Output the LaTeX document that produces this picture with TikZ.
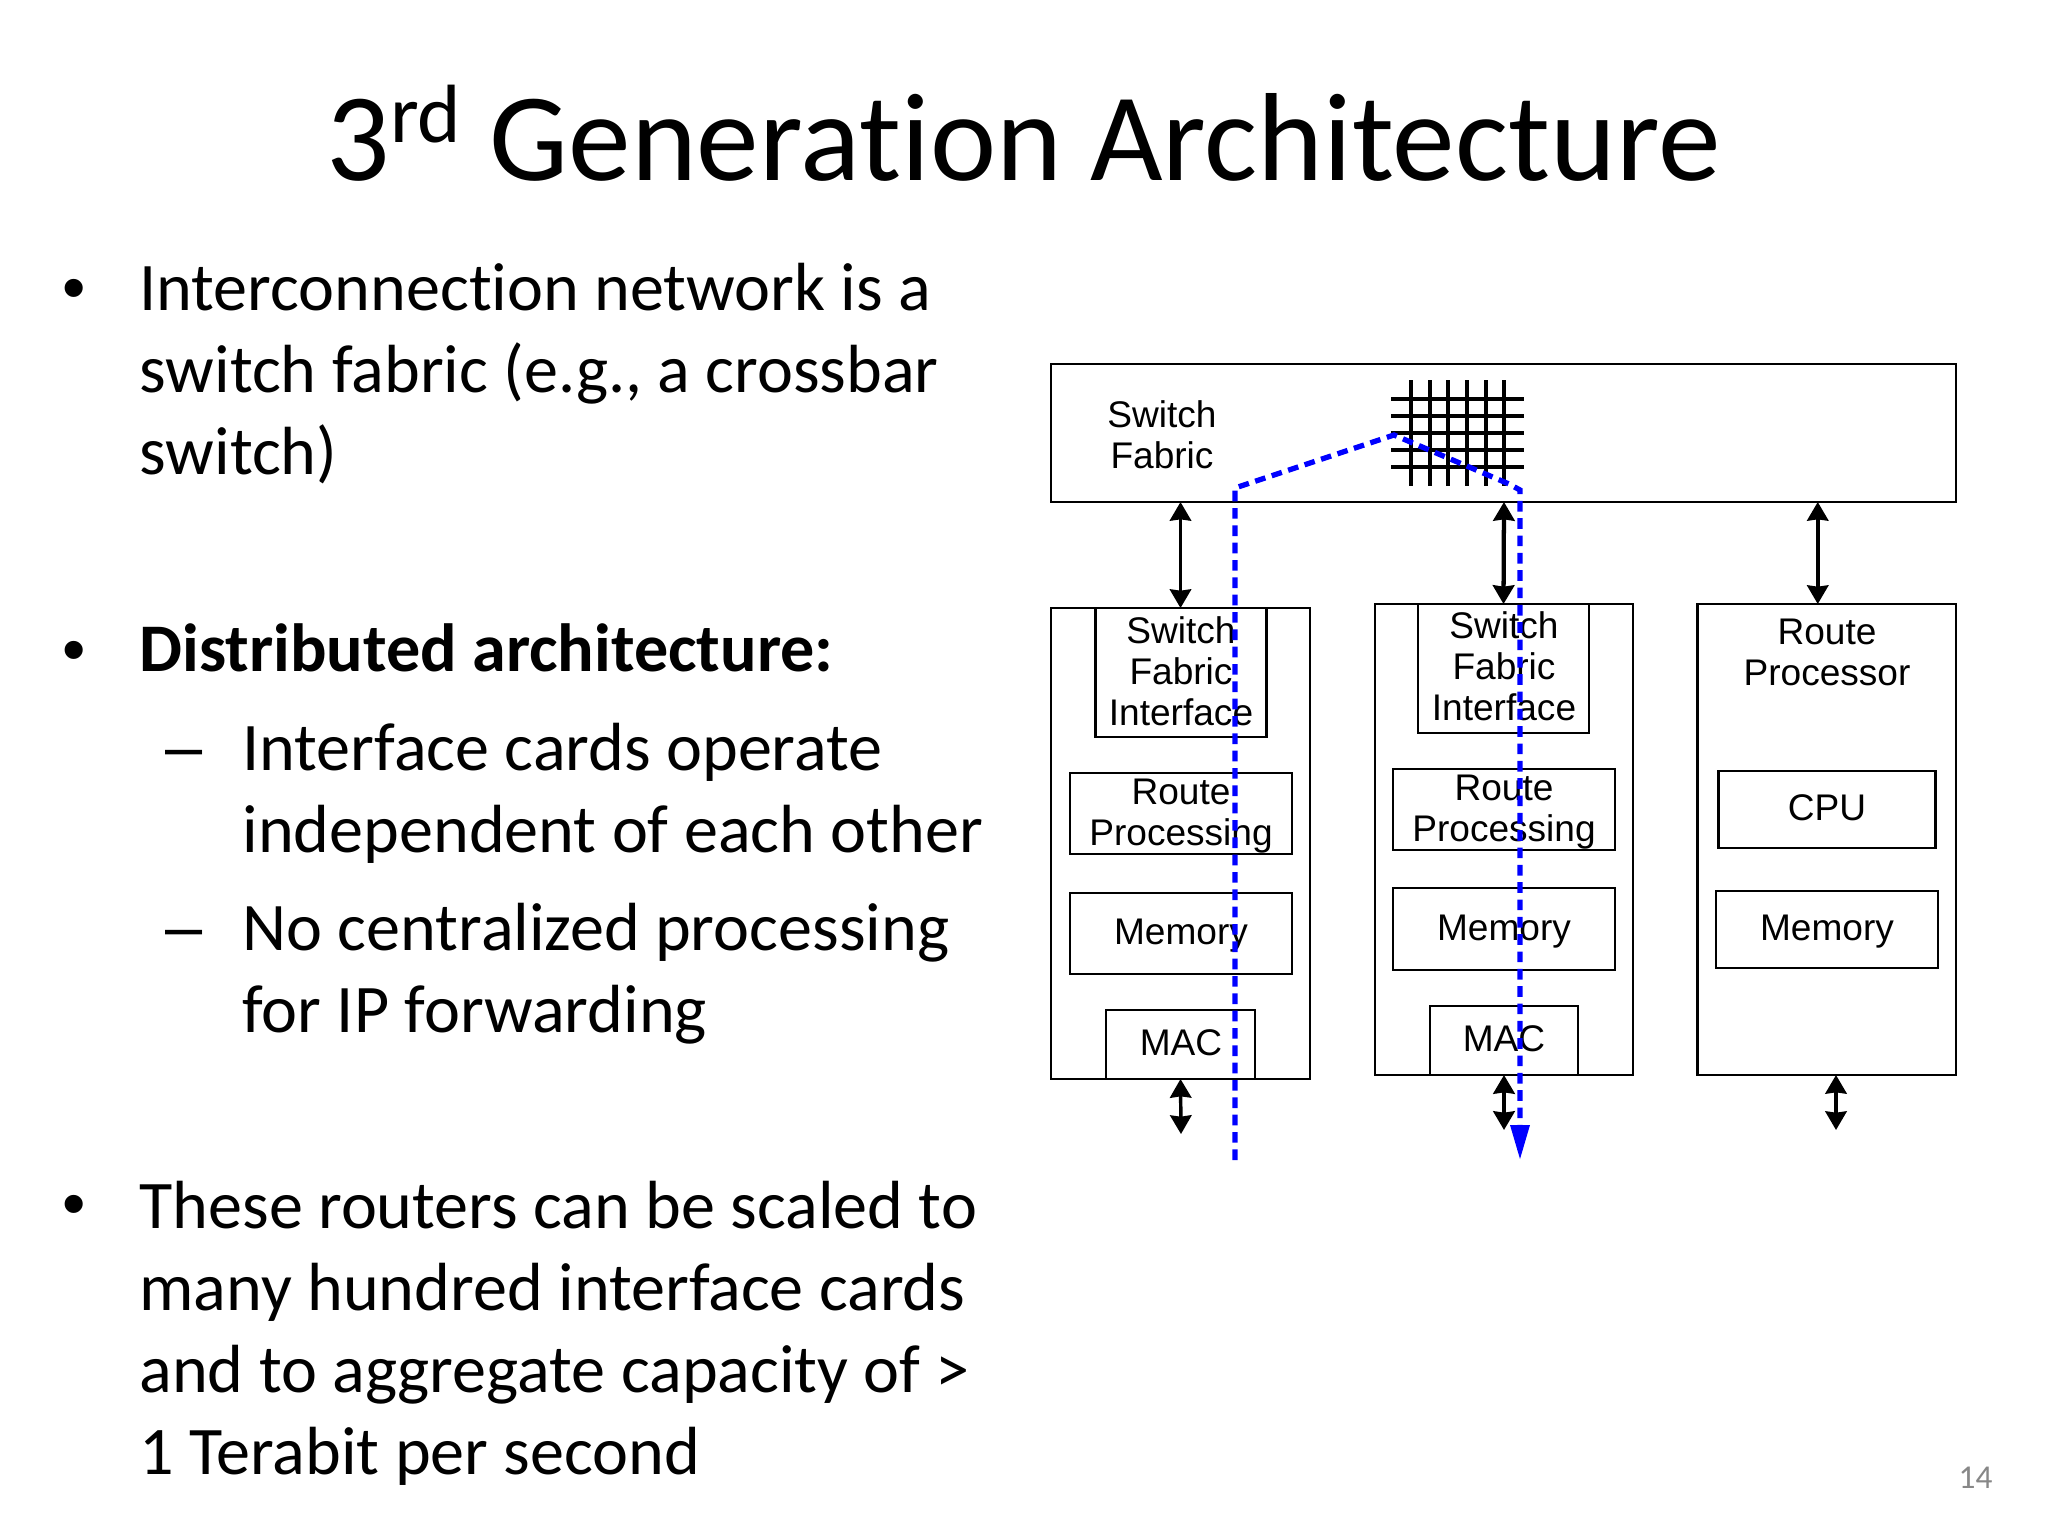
\documentclass[tikz,border=0pt]{standalone}
\usepackage{fontspec}
\setmainfont{Carlito}[Ligatures=NoCommon]
\newfontfamily\arialish{Liberation Sans}
\usetikzlibrary{arrows.meta,calc}
\newcommand{\pxbox}[5]{% name x1 y1 x2 y2
  \pgfmathsetmacro{\bw}{(#4-#2)*0.375}\pgfmathsetmacro{\bh}{(#5-#3)*0.375}
  \node[cardbox,minimum width=\bw pt,minimum height=\bh pt] (#1) at ({(#2+#4)/2},{(#3+#5)/2}) {};}
\tikzset{
  cardbox/.style={draw=black,line width=0.85pt,fill=none,inner sep=0pt,outer sep=0pt},
  dlabel/.style={font=\arialish\fontsize{13.9}{15.3}\selectfont,anchor=base,align=center,inner sep=0pt,text=black},
  bodytext/.style={font=\fontsize{25.55}{30.75}\selectfont,anchor=base west,align=left,inner sep=0pt,text=black},
  bul/.style={font=\arialish\fontsize{25}{30.75}\selectfont,anchor=base,inner sep=0pt,text=black},
  dbl/.style={draw=black,line width=1.3pt,{Stealth[length=7pt,width=8pt,inset=0.5pt]}-{Stealth[length=7pt,width=8pt,inset=0.5pt]}},
  gridline/.style={draw=black,line width=1.4pt},
  routepath/.style={draw=blue,line width=2pt,dash pattern=on 4pt off 2.5pt},
}
\begin{document}
\begin{tikzpicture}[x=0.375pt,y=-0.375pt]
\useasboundingbox (0,0) rectangle (2048,1536);
\fill[white] (0,0) rectangle (2048,1536);
% title
\node[font=\fontsize{47}{50}\selectfont,anchor=base west,inner sep=0pt] (title) at (326,180) {3\raisebox{14pt}{\fontsize{31}{33}\selectfont rd} Generation Architecture};
% body
\node[bul] (b1) at (74,310) {•};
\node[bodytext] (t1) at (139,474) {Interconnection network is a\\switch fabric (e.g., a crossbar\\switch)};
\node[bul] (b2) at (74,672) {•};
\node[bodytext,font=\fontsize{25.55}{30.75}\selectfont\bfseries] (t2) at (139,671) {Distributed architecture:};
\node[bul] (d1) at (184,769) {–};
\node[bodytext] (t3) at (242,852) {Interface cards operate\\independent of each other};
\node[bul] (d2) at (184,949) {–};
\node[bodytext] (t4) at (242,1032) {No centralized processing\\for IP forwarding};
\node[bul] (b3) at (74,1226) {•};
\node[bodytext] (t5) at (139,1474) {These routers can be scaled to\\many hundred interface cards\\and to aggregate capacity of >\\1 Terabit per second};
\node[font=\fontsize{12.5}{14}\selectfont,text=black!47,anchor=base east,inner sep=0pt] (pg) at (1993,1488) {14};
% boxes
\pxbox{fab}{1051}{364}{1956}{502}
\pxbox{c1}{1051}{608}{1310}{1079}
\pxbox{c2}{1375}{604}{1633}{1075}
\pxbox{c3}{1697.5}{604}{1956}{1075}
\pxbox{sfi1}{1095.5}{608}{1266.5}{737}
\pxbox{sfi2}{1418}{604}{1589}{733}
\pxbox{rp1}{1070}{773}{1292}{854}
\pxbox{rp2}{1393}{769}{1615}{850}
\pxbox{mem1}{1070}{893}{1292}{974}
\pxbox{mem2}{1393}{888}{1615}{970}
\pxbox{mac1}{1106}{1010}{1255}{1079}
\pxbox{mac2}{1430}{1006}{1578}{1075}
\pxbox{cpu}{1718.5}{771}{1935.5}{848}
\pxbox{mem3}{1716}{891}{1938}{968}
% labels
\node[dlabel] (lsf) at (1162,468) {Switch\\Fabric};
\node[dlabel] (l1) at (1181,725) {Switch\\Fabric\\Interface};
\node[dlabel] (l2) at (1504,720) {Switch\\Fabric\\Interface};
\node[dlabel] (l3) at (1827,685) {Route\\Processor};
\node[dlabel] (l4) at (1181,845) {Route\\Processing};
\node[dlabel] (l5) at (1504,841) {Route\\Processing};
\node[dlabel] (l6) at (1181,944) {Memory};
\node[dlabel] (l7) at (1504,940) {Memory};
\node[dlabel] (l8) at (1827,940) {Memory};
\node[dlabel] (l9) at (1827,820) {CPU};
\node[dlabel] (l10) at (1181,1055) {MAC};
\node[dlabel] (l11) at (1504,1051) {MAC};
% crossbar
\foreach \gx in {1411,1430,1448,1467,1486,1504} \draw[gridline] (\gx,380) -- (\gx,486);
\foreach \gy in {399,416,433,450,467} \draw[gridline] (1391,\gy) -- (1524,\gy);
% double arrows
\coordinate (a1b) at (1181,1134);
\coordinate (a2b) at (1504,1130);
\coordinate (a3b) at (1836,1130);
\coordinate (a3t) at ($(c3.north)+(-9,0)$);
\draw[dbl] (fab.south -| c1.north) -- (c1.north);
\draw[dbl,line width=1.6pt] (fab.south -| c2.north) -- (sfi2.north);
\draw[dbl] (fab.south -| a3t) -- (a3t);
\draw[dbl] (c1.south) -- (a1b);
\draw[dbl,line width=1.6pt] (c2.south) -- (a2b);
\draw[dbl] (c3.south -| a3b) -- (a3b);
% blue path
\coordinate (p0) at (1235,1160);
\coordinate (p1) at (1235,488);
\coordinate (p2) at (1394,435);
\coordinate (p3) at (1509,484);
\coordinate (p4) at (1520,490);
\coordinate (p5) at (1520,1150);
\draw[routepath] (p0) -- (p1) -- (p2) -- (p3) -- (p4) -- (p5);
\fill[blue] (1510,1125) -- (1530,1125) -- (1520,1159) -- cycle;
\end{tikzpicture}
\end{document}
